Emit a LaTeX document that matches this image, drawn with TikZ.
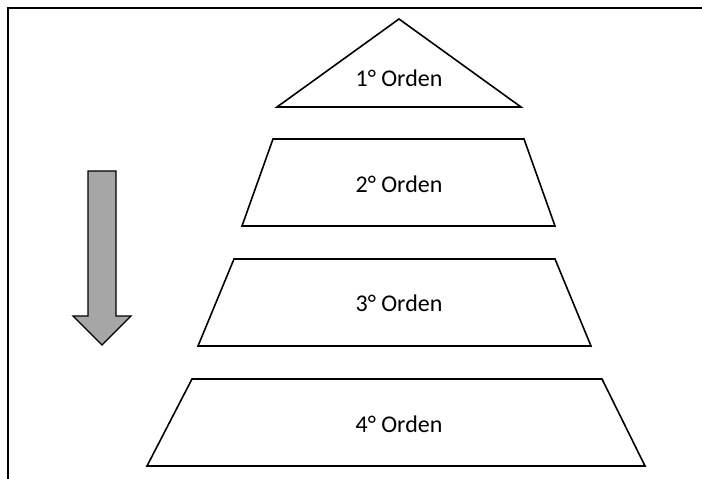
\documentclass[tikz,border=0pt]{standalone}
\usepackage{fontspec}
\setmainfont{Carlito}
\begin{document}
\begin{tikzpicture}[x=1pt,y=-1pt,
  level/.style={draw=black,line width=1.6pt,fill=white,line join=miter},
  lbl/.style={font=\fontsize{24}{28}\selectfont,inner sep=0pt,anchor=center},
  frame/.style={draw=black,line width=2pt}]
\useasboundingbox (0,0) rectangle (702,479);
% frame (top and left)
\draw[frame] (702,8) -- (8,8) -- (8,479);
% arrow
\draw[line width=1.4pt,fill={rgb,255:red,166;green,166;blue,166},line join=miter]
  (88,171) -- (116,171) -- (116,316) -- (131,316) -- (102,345) -- (73,316) -- (88,316) -- cycle;
% levels
\draw[level] (399,19) -- (521,107) -- (277,107) -- cycle;
\draw[level] (273,139) -- (524,139) -- (555,226) -- (242,226) -- cycle;
\draw[level] (234,259) -- (555,259) -- (591,346) -- (198,346) -- cycle;
\draw[level] (192,379) -- (602,379) -- (645,466) -- (147,466) -- cycle;
% labels
\node[lbl] (o1) at (399,78) {1° Orden};
\node[lbl] (o2) at (399,184) {2° Orden};
\node[lbl] (o3) at (399,303) {3° Orden};
\node[lbl] (o4) at (399,424) {4° Orden};
\end{tikzpicture}
\end{document}
